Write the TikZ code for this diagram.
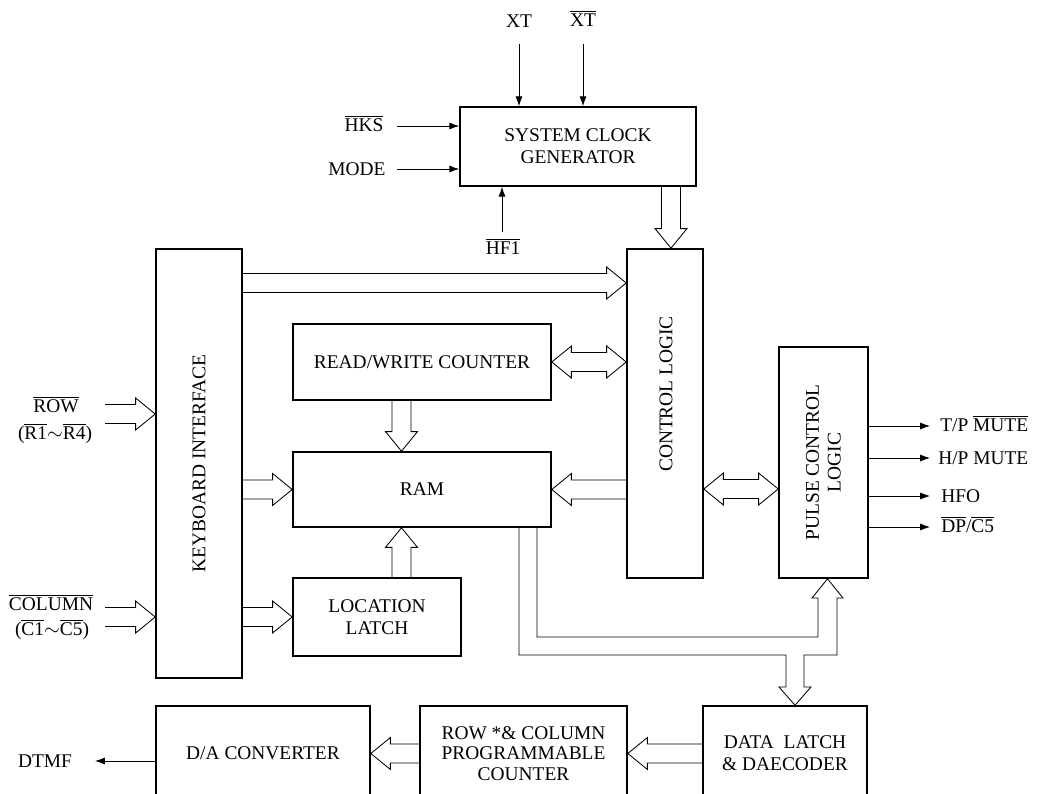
\documentclass[tikz,border=0pt]{standalone}
\usepackage{fontspec}
\setmainfont{Liberation Serif}
\usetikzlibrary{arrows.meta,calc}

\newcommand{\ovl}[1]{\leavevmode\vbox{\hrule height 0.5pt\kern 1.6pt\hbox{#1}}}
\newcommand{\busw}{0.2375cm}
\newcommand{\headw}{0.4cm}
\newcommand{\headl}{0.49cm}
\newcommand{\bus}[2]{%
  \coordinate (s) at (#1); \coordinate (t) at (#2);
  \coordinate (h) at ($(t)!\headl!(s)$);
  \draw[bus] ($(s)!\busw!90:(t)$) -- ($(h)!\busw!-90:(s)$) -- ($(h)!\headw!-90:(s)$) -- (t)
    -- ($(h)!\headw!90:(s)$) -- ($(h)!\busw!90:(s)$) -- ($(s)!\busw!-90:(t)$);}
\newcommand{\dbus}[2]{%
  \coordinate (s) at (#1); \coordinate (t) at (#2);
  \coordinate (h1) at ($(s)!\headl!(t)$); \coordinate (h2) at ($(t)!\headl!(s)$);
  \draw[bus] (s) -- ($(h1)!\headw!90:(t)$) -- ($(h1)!\busw!90:(t)$) -- ($(h2)!\busw!-90:(s)$)
    -- ($(h2)!\headw!-90:(s)$) -- (t) -- ($(h2)!\headw!90:(s)$) -- ($(h2)!\busw!90:(s)$)
    -- ($(h1)!\busw!-90:(t)$) -- ($(h1)!\headw!-90:(t)$) -- cycle;}

\begin{document}
\begin{tikzpicture}[x=0.025cm, y=-0.025cm, font=\fontsize{13.8pt}{15.5pt}\selectfont,
    main/.style = {draw, line width=1.1pt, align=center, inner sep=0pt},
    bus/.style = {semithick, line join=miter},
    sig/.style = {semithick, -{Latex[length=7pt, width=5pt]}},
    lbl/.style = {inner sep=0pt}]
  \path[use as bounding box, clip] (0,0) rectangle (1037,794);

  \node[main, minimum width=5.9cm, minimum height=1.975cm] (clk) at (578,146.5) {SYSTEM CLOCK\\GENERATOR};
  \node[main, minimum width=2.15cm, minimum height=10.725cm,
        label={[rotate=90]center:KEYBOARD INTERFACE}] (kbd) at (199,463.5) {};
  \node[main, minimum width=1.9cm, minimum height=8.225cm] (ctl) at (665,413.5) {};
  \node[rotate=90] (ctltxt) at (666,394) {CONTROL LOGIC};
  \node[main, minimum width=6.45cm, minimum height=1.9cm] (rw) at (422,362) {READ/WRITE COUNTER};
  \node[main, minimum width=6.45cm, minimum height=1.875cm] (ram) at (422,489.5) {RAM};
  \node[main, minimum width=4.2cm, minimum height=1.95cm] (loc) at (377,617) {LOCATION\\LATCH};
  \node[main, minimum width=2.225cm, minimum height=5.775cm,
        label={[rotate=90, align=center]center:PULSE CONTROL\\LOGIC}] (pcl) at (823.5,462.5) {};
  \node[main, minimum width=5.35cm, minimum height=2.375cm] (dac) at (263,753.5) {D/A CONVERTER};
  \node[main, minimum width=5.175cm, minimum height=2.375cm, font=\fontsize{13.8pt}{14.5pt}\selectfont]
        (cnt) at (523.5,753.5) {ROW *\& COLUMN\\PROGRAMMABLE\\COUNTER};
  \node[main, minimum width=4.1cm, minimum height=2.375cm] (dl) at (785,753.5) {DATA~~LATCH\\\& DAECODER};

  \node[lbl] (xt) at (519,21) {XT};
  \node[lbl] (xtn) at (583,19) {\ovl{XT}};
  \node[lbl] (hks) at (364,124) {\ovl{HKS}};
  \node[lbl] (mode) at (357,169) {MODE};
  \node[lbl] (hf1) at (503,247) {\ovl{HF1}};
  \node[lbl] (row) at (56,405) {\ovl{ROW}};
  \node[lbl] (rowr) at (55,434) {(\ovl{R1}$\sim$\ovl{R4})};
  \node[lbl] (col) at (51,603) {\ovl{COLUMN}};
  \node[lbl] (colc) at (52,630) {(\ovl{C1}$\sim$\ovl{C5})};
  \node[lbl] (dtmf) at (45,761) {DTMF};
  \node[lbl, anchor=west] (tp) at (940,424) {T/P \ovl{MUTE}};
  \node[lbl, anchor=west] (hp) at (938,458) {H/P MUTE};
  \node[lbl, anchor=west] (hfo) at (941,496) {HFO};
  \node[lbl, anchor=west] (dp) at (941,525) {\ovl{DP}/\ovl{C5}};

  \coordinate (xtin) at (519,44);
  \coordinate (xtnin) at (583,44);
  \coordinate (hksin) at (397,126);
  \coordinate (modein) at (397,169);
  \coordinate (hf1in) at (502,232);
  \coordinate (rowin) at (105,414);
  \coordinate (colin) at (105,617);
  \coordinate (dtmfout) at (95,761);

  \draw[sig] (xtin) -- (clk.north -| xtin);
  \draw[sig] (xtnin) -- (clk.north -| xtnin);
  \draw[sig] (hksin) -- (clk.west |- hksin);
  \draw[sig] (modein) -- (clk.west |- modein);
  \draw[sig] (hf1in) -- (clk.south -| hf1in);
  \draw[sig] (dac.west |- dtmfout) -- (dtmfout);
  \foreach \y in {426,458,496,527}
    \draw[sig] (pcl.east |- 0,\y) -- (930,\y);

  \bus{clk.south -| 671,0}{ctl.north -| 671,0}
  \bus{kbd.east |- 0,283}{ctl.west |- 0,283}
  \dbus{rw.east}{ctl.west |- rw.east}
  \bus{rw.south -| 401.5,0}{ram.north -| 401.5,0}
  \bus{loc.north -| 401.5,0}{ram.south -| 401.5,0}
  \bus{rowin}{kbd.west |- rowin}
  \bus{colin}{kbd.west |- colin}
  \bus{kbd.east |- ram.west}{ram.west}
  \bus{kbd.east |- loc.west}{loc.west}
  \bus{ctl.west |- ram.east}{ram.east}
  \dbus{ctl.east |- 0,489}{pcl.west |- 0,489}
  \bus{cnt.west}{dac.east |- cnt.west}
  \bus{dl.west}{cnt.east |- dl.west}
  \draw[bus] (ram.south -| 519,0) |- (786,655) -- (786,687) -- (779,687) -- (dl.north -| 795,0)
    -- (811,687) -- (804,687) -- (804,655) -| (837,598) -- (843,598) -- (pcl.south -| 827.5,0)
    -- (812,598) -- (818,598) |- (537,637) -- (ram.south -| 537,0);
\end{tikzpicture}
\end{document}
